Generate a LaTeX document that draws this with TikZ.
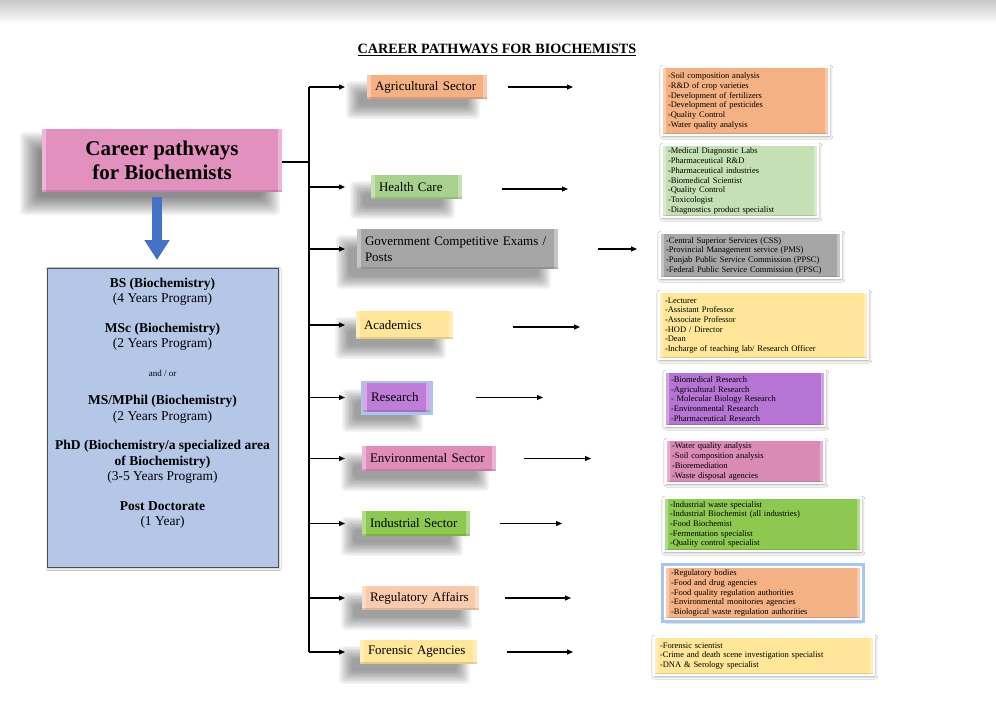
\documentclass[tikz,border=0pt]{standalone}
\usepackage{fontspec}
\setmainfont{Liberation Serif}
\usetikzlibrary{arrows.meta,shadows.blur}
\definecolor{mainpink}{HTML}{E290BE}
\definecolor{edublue}{HTML}{B4C7E7}
\definecolor{arrowblue}{HTML}{4472C4}
\definecolor{orangec}{HTML}{F4B183}
\definecolor{greenlt}{HTML}{A9D18E}
\definecolor{greenpale}{HTML}{C5E0B4}
\definecolor{grayc}{HTML}{A6A6A6}
\definecolor{yellowc}{HTML}{FFE699}
\definecolor{purplec}{HTML}{C07CD9}
\definecolor{purpled}{HTML}{B675D4}
\definecolor{pinkc}{HTML}{E08DBA}
\definecolor{pinkd}{HTML}{D98AB5}
\definecolor{greenind}{HTML}{8DC950}
\definecolor{peach}{HTML}{F8CBAD}
\definecolor{glowblue}{HTML}{A9C4EE}
% soft shadow of a box: #1 x, #2 y (top), #3 w, #4 h, #5 dx, #6 dy (down), #7 blur radius, #8 opacity per layer
\newcommand{\mysoftshadow}[8]{%
  \foreach \k in {0,...,9}{%
    \pgfmathsetmacro{\dd}{#7*(1-\k/5)}%
    \fill[black, opacity=#8, rounded corners=4pt]
      ({#1+#5-\dd},{#2+#6-\dd}) rectangle ({#1+#3+#5+\dd},{#2+#4+#6+\dd});
  }%
}
\begin{document}
\begin{tikzpicture}[x=1pt,y=-1pt,
  bevel/.style={path picture={
    \fill[white,opacity=0.35] (path picture bounding box.north west) rectangle ([xshift=4pt]path picture bounding box.south west);
    \fill[white,opacity=0.35] ([xshift=-4pt]path picture bounding box.north east) rectangle (path picture bounding box.south east);
    \fill[black,opacity=0.12] (path picture bounding box.south west) rectangle ([yshift=2.5pt]path picture bounding box.south east);
  }},
  catbox/.style={anchor=north west, outer sep=0pt, inner xsep=8pt, inner ysep=2pt, align=left,
    font=\fontsize{13}{16}\selectfont, bevel},
  detbox/.style={anchor=north west, outer sep=0pt, draw=white, line width=2.5pt, inner xsep=6pt, inner ysep=2pt,
    align=left, font=\fontsize{8.5}{9.7}\selectfont, bevel,
    blur shadow={shadow xshift=0.8pt, shadow yshift=-1.2pt, shadow blur radius=3pt, shadow blur steps=8, shadow opacity=40}},
  glow/.style={preaction={draw=glowblue, line width=#1}},
  trunkline/.style={line width=1.1pt, black},
  conn/.style={line width=1.1pt, black, -{Triangle[length=6pt,width=5pt]}},
  bigarrow/.style={line width=10pt, arrowblue, -{Triangle[length=20pt,width=24pt]}}
]
\useasboundingbox (0,0) rectangle (996,705);
\fill[white] (0,0) rectangle (996,705);
\shade[top color=black!22, bottom color=white] (0,0) rectangle (996,24);

% soft shadows (drawn first, behind the boxes)
\mysoftshadow{42}{129}{240}{63}{-12}{13}{10}{0.055}
\mysoftshadow{367}{75}{120}{24}{-14}{13}{7}{0.045}
\mysoftshadow{371}{175}{91}{24}{-14}{13}{7}{0.045}
\mysoftshadow{357}{229}{201}{40}{-14}{13}{7}{0.045}
\mysoftshadow{356}{311}{97}{28}{-14}{13}{7}{0.045}
\mysoftshadow{363}{383}{67}{29}{-14}{13}{7}{0.045}
\mysoftshadow{362}{446}{134}{25}{-14}{13}{7}{0.045}
\mysoftshadow{362}{511}{108}{25}{-14}{13}{7}{0.045}
\mysoftshadow{362}{586}{117}{24}{-14}{13}{7}{0.045}
\mysoftshadow{360}{640}{117}{24}{-14}{13}{7}{0.045}

% title
\node[font=\bfseries\fontsize{14.2}{16}\selectfont] (title) at (497,50) {\underline{CAREER PATHWAYS FOR BIOCHEMISTS}};

% main box
\node[anchor=north west, outer sep=0pt, fill=mainpink, minimum width=240pt, minimum height=63pt, align=center,
  font=\bfseries\fontsize{21}{24}\selectfont, bevel]
  (main) at (42,129) {Career pathways\\for Biochemists};

% education box
\node[anchor=north west, outer sep=0pt, fill=edublue, draw=black!70, line width=0.8pt, minimum width=231pt, minimum height=299pt,
  blur shadow={shadow xshift=1pt, shadow yshift=-1.5pt, shadow blur radius=2pt, shadow opacity=30}]
  (edubox) at (47,268) {};
\node[anchor=north, inner sep=0pt, align=center, font=\fontsize{13.5}{15.5}\selectfont] (edu) at (162.5,277.5)
  {\textbf{BS (Biochemistry)}\\(4 Years Program)\\[14pt]
   \textbf{MSc (Biochemistry)}\\(2 Years Program)\\[13pt]
   {\fontsize{9}{15.5}\selectfont and / or}\\[13pt]
   \textbf{MS/MPhil (Biochemistry)}\\(2 Years Program)\\[14pt]
   \textbf{PhD (Biochemistry/a specialized area}\\\textbf{of Biochemistry)}\\(3-5 Years Program)\\[14pt]
   \textbf{Post Doctorate}\\(1 Year)};

\draw[bigarrow, shorten <=5pt, shorten >=8pt] ([xshift=-5pt]main.south) -- ([xshift=-5pt]main.south |- edubox.north);

% category boxes
\node[catbox, fill=orangec, minimum width=120pt, minimum height=24pt, text width=104pt] (c1) at (367,75) {Agricultural Sector};
\node[catbox, fill=greenlt, minimum width=91pt, minimum height=24pt, text width=75pt] (c2) at (371,175) {Health Care};
\node[catbox, fill=grayc, minimum width=201pt, minimum height=40pt, text width=185pt] (c3) at (357,229) {Government Competitive Exams /\\Posts};
\node[catbox, fill=yellowc, minimum width=97pt, minimum height=28pt, text width=81pt] (c4) at (356,311) {Academics};
\node[catbox, fill=purplec, glow=5pt, minimum width=67pt, minimum height=29pt, text width=51pt] (c5) at (363,383) {Research};
\node[catbox, fill=pinkc, minimum width=134pt, minimum height=25pt, text width=118pt] (c6) at (362,446) {Environmental Sector};
\node[catbox, fill=greenind, minimum width=108pt, minimum height=25pt, text width=92pt] (c7) at (362,511) {Industrial Sector};
\node[catbox, fill=peach, minimum width=117pt, minimum height=24pt, text width=101pt] (c8) at (362,586) {Regulatory Affairs};
\node[catbox, fill=yellowc, minimum width=117pt, minimum height=24pt, text width=101pt] (c9) at (360,640) {Forensic Agencies};

% detail boxes
\node[detbox, fill=orangec, minimum width=167pt, minimum height=68pt, text width=155pt] (d1) at (662,67)
  {-Soil composition analysis\\-R\&D of crop varieties\\-Development of fertilizers\\-Development of pesticides\\-Quality Control\\-Water quality analysis};
\node[detbox, fill=greenpale, minimum width=156pt, minimum height=72pt, text width=144pt] (d2) at (662,145)
  {-Medical Diagnostic Labs\\-Pharmaceutical R\&D\\-Pharmaceutical industries\\-Biomedical Scientist\\-Quality Control\\-Toxicologist\\-Diagnostics product specialist};
\node[detbox, fill=grayc, minimum width=181pt, minimum height=45pt, text width=169pt] (d3) at (660,233)
  {-Central Superior Services (CSS)\\-Provincial Management service (PMS)\\-Punjab Public Service Commission (PPSC)\\-Federal Public Service Commission (FPSC)};
\node[detbox, fill=yellowc, minimum width=209pt, minimum height=67pt, text width=197pt] (d4) at (659,292)
  {-Lecturer\\-Assistant Professor\\-Associate Professor\\-HOD / Director\\-Dean\\-Incharge of teaching lab/ Research Officer};
\node[detbox, fill=purpled, minimum width=160pt, minimum height=54pt, text width=148pt] (d5) at (665,372)
  {-Biomedical Research\\-Agricultural Research\\- Molecular Biology Research\\-Environmental Research\\-Pharmaceutical Research};
\node[detbox, fill=pinkd, minimum width=158pt, minimum height=43pt, text width=146pt] (d6) at (666,440)
  {-Water quality analysis\\-Soil composition analysis\\-Bioremediation\\-Waste disposal agencies};
\node[detbox, fill=greenind, minimum width=197pt, minimum height=53pt, text width=185pt] (d7) at (664,498)
  {-Industrial waste specialist\\-Industrial Biochemist (all industries)\\-Food Biochemist\\-Fermentation specialist\\-Quality control specialist};
\node[detbox, fill=orangec, glow=8pt, minimum width=196pt, minimum height=52pt, text width=184pt] (d8) at (665,567)
  {-Regulatory bodies\\-Food and drug agencies\\-Food quality regulation authorities\\-Environmental monitories agencies\\-Biological waste regulation authorities};
\node[detbox, fill=yellowc, minimum width=220pt, minimum height=38pt, text width=208pt] (d9) at (654,637)
  {-Forensic scientist\\-Crime and death scene investigation specialist\\-DNA \& Serology specialist};

% trunk
\coordinate (tTop) at (309,87);
\coordinate (tBot) at (309,652);
\draw[trunkline] (main.east |- 0,162) -- (tTop |- 0,162);
\draw[trunkline] (tTop) -- (tBot);

% branches to categories
\draw[conn, shorten >=22pt] (c1.west -| tTop) -- (c1.west);
\draw[conn, shorten >=26pt] (c2.west -| tTop) -- (c2.west);
\draw[conn, shorten >=12pt] (c3.west -| tTop) -- (c3.west);
\draw[conn, shorten >=11pt] (c4.west -| tTop) -- (c4.west);
\draw[conn, shorten >=18pt] (c5.west -| tTop) -- (c5.west);
\draw[conn, shorten >=17pt] (c6.west -| tTop) -- (c6.west);
\draw[conn, shorten >=17pt] (c7.west -| tTop) -- (c7.west);
\draw[conn, shorten >=17pt] (c8.west -| tTop) -- (c8.west);
\draw[conn, shorten >=15pt] (c9.west -| tTop) -- (c9.west);

% arrows to details
\draw[conn, shorten <=21pt, shorten >=89pt] (c1.east) -- (c1.east -| d1.west);
\draw[conn, shorten <=40pt, shorten >=94pt] ([yshift=-2pt]c2.east) -- ([yshift=-2pt]c2.east -| d2.west);
\draw[conn, shorten <=40pt, shorten >=23pt] (c3.east) -- (c3.east -| d3.west);
\draw[conn, shorten <=60pt, shorten >=79pt] ([yshift=-2pt]c4.east) -- ([yshift=-2pt]c4.east -| d4.west);
\draw[conn, shorten <=46pt, shorten >=122pt] (c5.east) -- (c5.east -| d5.west);
\draw[conn, shorten <=28pt, shorten >=75pt] (c6.east) -- (c6.east -| d6.west);
\draw[conn, shorten <=30pt, shorten >=102pt] (c7.east) -- (c7.east -| d7.west);
\draw[conn, shorten <=26pt, shorten >=94pt] (c8.east) -- (c8.east -| d8.west);
\draw[conn, shorten <=30pt, shorten >=81pt] (c9.east) -- (c9.east -| d9.west);
\end{tikzpicture}
\end{document}
